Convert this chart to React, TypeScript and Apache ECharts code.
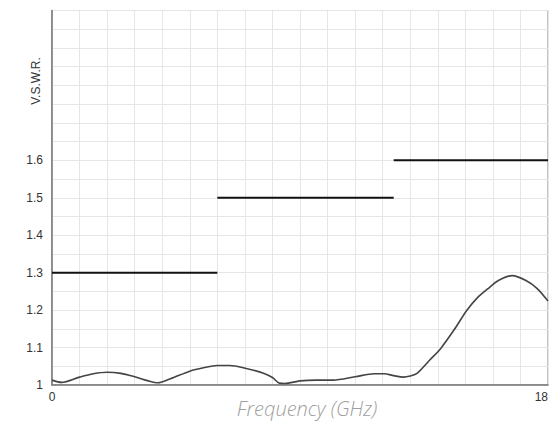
import React, { useEffect, useRef } from "react";
import * as echarts from "echarts";

// Measured VSWR curve
const freqGHz = [0, 0.35, 1.0, 1.5, 2.0, 2.5, 3.0, 3.5, 3.85, 4.3, 5.0, 5.5, 6.0, 6.45, 7.05, 7.7, 8.0, 8.25, 8.45, 9.0, 9.6, 10.2, 11.0, 11.7, 12.05, 12.4, 12.75, 13.0, 13.25, 13.7, 14.1, 14.6, 15.05, 15.45, 15.8, 16.2, 16.7, 17.2, 17.6, 18.0];
const vswr = [1.013, 1.007, 1.021, 1.03, 1.034, 1.031, 1.022, 1.011, 1.006, 1.017, 1.037, 1.046, 1.052, 1.052, 1.044, 1.031, 1.02, 1.005, 1.004, 1.011, 1.013, 1.013, 1.022, 1.03, 1.03, 1.025, 1.021, 1.024, 1.031, 1.066, 1.097, 1.148, 1.199, 1.234, 1.256, 1.279, 1.292, 1.279, 1.258, 1.224];

// Specification limits (step bands)
const specStart = [0, 6, 12.4];
const specEnd = [6, 12.4, 18];
const specLimit = [1.3, 1.5, 1.6];

// Tick labels and titles
const yTickLabels = ["1", "1.1", "1.2", "1.3", "1.4", "1.5", "1.6"];
const xTickLabels = ["0", "18"];
const xTitle = "Frequency (GHz)";
const yTitle = "V.S.W.R.";

export default function App() {
  const ref = useRef<HTMLDivElement>(null);
  useEffect(() => {
    if (!ref.current) return;
    const chart = echarts.init(ref.current, null, { renderer: "svg" });
    const specSeries = specStart.map((s, i) => ({
      type: "line",
      data: [
        [s, specLimit[i]],
        [specEnd[i], specLimit[i]],
      ],
      showSymbol: false,
      lineStyle: { color: "#111", width: 2 },
      z: 3,
    }));
    chart.setOption({
      animation: false,
      grid: {
        left: 52,
        right: 7,
        top: 10.5,
        bottom: 36,
        containLabel: false,
        outerBoundsMode: "none",
        show: true,
        borderColor: "#888",
        borderWidth: 1,
      },
      graphic: [
        {
          type: "text",
          x: 36,
          y: 81,
          rotation: Math.PI / 2,
          style: {
            text: yTitle,
            fill: "#333",
            font: "12px 'Liberation Sans', Arial, sans-serif",
            textAlign: "center",
            textVerticalAlign: "middle",
          },
        },
        {
          type: "text",
          x: 307,
          y: 408,
          style: {
            text: xTitle,
            fill: "#a0a0a0",
            font: "italic 300 20px 'Open Sans', sans-serif",
            textAlign: "center",
            textVerticalAlign: "middle",
          },
        },
      ],
      xAxis: {
        type: "value",
        min: 0,
        max: 18,
        interval: 1,
        axisLine: { show: true, lineStyle: { color: "#777", width: 1.5 } },
        axisTick: { show: false },
        splitLine: { show: true, lineStyle: { color: "#e6e6e6", width: 1 } },
        axisLabel: {
          color: "#333",
          fontSize: 12,
          fontFamily: "'Liberation Sans', Arial, sans-serif",
          margin: 6,
          alignMinLabel: "center",
          alignMaxLabel: "right",
          formatter: (v: number) => {
            if (Math.abs(v - 0) < 1e-9) return xTickLabels[0];
            if (Math.abs(v - 18) < 1e-9) return xTickLabels[1];
            return "";
          },
        },
      },
      yAxis: {
        type: "value",
        min: 1,
        max: 2,
        interval: 0.05,
        axisLine: { show: true, lineStyle: { color: "#777", width: 1.5 } },
        axisTick: { show: false },
        splitLine: { show: true, lineStyle: { color: "#e6e6e6", width: 1 } },
        axisLabel: {
          color: "#333",
          fontSize: 12,
          fontFamily: "'Liberation Sans', Arial, sans-serif",
          margin: 9,
          formatter: (v: number) => {
            const k = (v - 1) * 10;
            const r = Math.round(k);
            if (Math.abs(k - r) > 1e-6) return "";
            return yTickLabels[r] ?? "";
          },
        },
      },
      series: [
        {
          type: "line",
          data: freqGHz.map((f, i) => [f, vswr[i]]),
          showSymbol: false,
          smooth: 0.3,
          lineStyle: { color: "#444", width: 1.6 },
          z: 4,
        },
        ...specSeries,
      ],
    });
    return () => chart.dispose();
  }, []);
  return (
    <div
      ref={ref}
      style={{ position: "fixed", left: 0, top: 0, width: 555, height: 421, background: "#fff" }}
    />
  );
}
